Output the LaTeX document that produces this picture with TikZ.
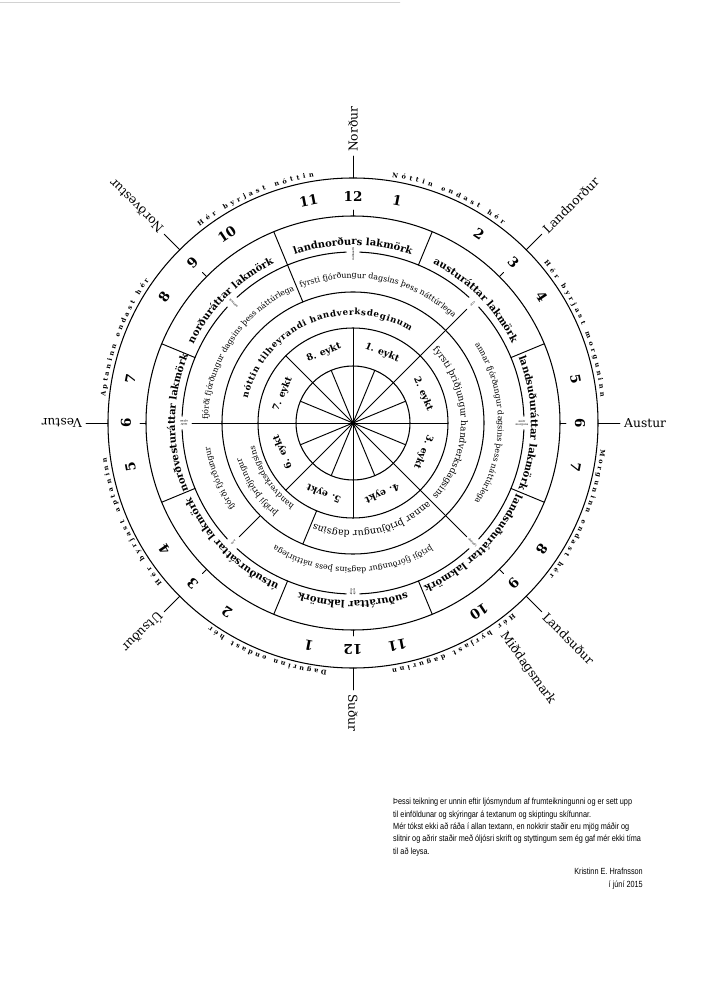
\documentclass[tikz,border=0pt]{standalone}
\usepackage{fontspec}
\setmainfont{DejaVu Serif}
\newfontfamily\notefont[FakeStretch=0.82]{Liberation Sans}
\usetikzlibrary{decorations.text}
% #1 align, #2 radius, #3 start (deg clockwise from north), #4 end, #5 font, #6 text
\newcommand\RingTxt[6]{%
  \path[decorate,decoration={text along path,text align={#1},text={|#5|#6}}]
    ({90-(#3)}:#2) arc[start angle={90-(#3)},end angle={90-(#4)},radius=#2];}
\tikzset{
  ring/.style={line width=1.05pt},
  rad/.style={line width=0.95pt},
  compass/.style={font=\fontsize{12.3}{12.3}\selectfont,inner sep=0pt,anchor=west},
  num/.style={font=\bfseries\fontsize{13.5}{13.5}\selectfont,inner sep=0pt},
  eyktlab/.style={font=\bfseries\fontsize{9.3}{9.3}\selectfont,inner sep=0pt},
  marklab/.style={font=\fontsize{2.8}{3}\selectfont,align=center,inner sep=0pt},
  notestyle/.style={inner sep=0pt,font=\notefont\fontsize{8.9}{12.3}\selectfont},
}
\begin{document}
\begin{tikzpicture}[x=1pt,y=1pt,line cap=round]
\useasboundingbox (-353,-577) rectangle (354,423);
\fill[white] (-353,-577) rectangle (354,423);
\draw[gray!35,line width=0.4pt] (-353,420.5) -- (47,420.5);

% circles
\foreach \r in {57,95,131,207,245} \draw[ring] (0,0) circle[radius=\r];
\foreach \k in {0,...,7}
  \draw[ring] ({90-45*\k-2.3}:171) arc[start angle={90-45*\k-2.3},end angle={90-45*\k-42.7},radius=171];
\fill (0,0) circle[radius=2.6];

% spokes
\foreach \k in {0,...,15} \draw[rad] (0,0) -- ({22.5*\k}:57);
\foreach \k in {0,...,7} \draw[rad] ({45*\k}:57) -- ({45*\k}:95);
\foreach \a in {45,135,270} \draw[rad] ({90-\a}:95) -- ({90-\a}:161);
\draw[rad] ({90-225}:131) -- ({90-225}:161);
\draw[rad] ({90-202.5}:95) -- ({90-202.5}:131);
\draw[rad] ({90-337.5}:131) -- ({90-337.5}:171);
\foreach \k in {0,...,7} \draw[rad] ({90-22.5-45*\k}:171) -- ({90-22.5-45*\k}:207);
\foreach \k in {0,...,7} \draw[rad] ({90-45*\k}:207) -- ({90-45*\k}:213);

% compass points
\foreach \a/\t/\n in {0/Norður/cN,45/Landnorður/cNE,90/Austur/cE,135/Landsuður/cSE,180/Suður/cS,225/Útsuður/cSW,270/Vestur/cW,315/Norðvestur/cNW}{
  \draw[rad] ({90-\a}:245) -- ({90-\a}:267);
  \node[compass,rotate={90-\a}] (\n) at ({90-\a}:271) {\t};
}
\node[compass,rotate=-54.5] (mdm) at (-54.5:258) {Miðdagsmark};

% hour numbers
\foreach \a/\t [count=\i] in {0/12,11.25/1,33.75/2,45/3,56.25/4,78.75/5,90/6,101.25/7,123.75/8,135/9,146.25/10,168.75/11,180/12,191.25/1,213.75/2,225/3,236.25/4,258.75/5,270/6,281.25/7,303.75/8,315/9,326.25/10,348.75/11}
  \node[num,rotate={-\a}] (h\i) at ({90-\a}:227) {\t};

% eykt labels
\foreach \k in {1,...,8}
  \node[eyktlab,rotate={-(45*\k-22.5)}] (e\k) at ({90-(45*\k-22.5)}:76) {\k. eykt};

% day-mark labels on the circle
\foreach \a/\t [count=\i] in {0/miðnætti,45/ótta,90/{miðr\\morguns},135/dagmál,180/{miðr\\dagr},225/nón,270/{miðr\\aptan},315/náttmál}
  \node[marklab,rotate={90-\a}] (s\i) at ({90-\a}:169) {\t};

% outer texts
\def\OF{\bfseries\fontsize{6.5}{7}\selectfont}
\RingTxt{fit to path}{249}{322}{351}{\OF}{Hér byrjast nóttin}
\RingTxt{fit to path}{249}{9}{37}{\OF}{Nóttin endast hér}
\RingTxt{fit to path}{249}{50}{84}{\OF}{Hér byrjast morguninn}
\RingTxt{fit to path}{249}{96}{128}{\OF}{Morguninn endast hér}
\RingTxt{fit to path}{249}{140}{171}{\OF}{Hér byrjast dagurinn}
\RingTxt{fit to path}{249}{186}{215}{\OF}{Dagurinn endast hér}
\RingTxt{fit to path}{249}{230}{262}{\OF}{Hér byrjast aptaninn}
\RingTxt{fit to path}{249}{276}{305}{\OF}{Aptaninn endast hér}

% lakmörk ring
\def\EF{\bfseries\fontsize{10}{10}\selectfont}
\RingTxt{center}{178}{-28}{28}{\EF}{landnorðurs lakmörk}
\RingTxt{center}{178}{17}{73}{\EF}{austuráttar lakmörk}
\RingTxt{center}{178}{62}{118}{\EF}{landsuðuráttar lakmörk}
\RingTxt{center}{178}{107}{163}{\EF}{landsuðuráttar lakmörk}
\RingTxt{center}{178}{152}{208}{\EF}{suðuráttar lakmörk}
\RingTxt{center}{178}{197}{253}{\EF}{útsuðursáttar lakmörk}
\RingTxt{center}{178}{242}{298}{\EF}{norðvesturáttar lakmörk}
\RingTxt{center}{178}{287}{343}{\EF}{norðuráttar lakmörk}

% fjórðungur ring
\def\DF{\fontsize{7.9}{9}\selectfont}
\RingTxt{center}{145}{-22.5}{45}{\DF}{fyrsti fjórðungur dagsins þess náttúrlega}
\RingTxt{center}{145}{45}{135}{\DF}{annar fjórðungur dagsins þess náttúrlega}
\RingTxt{center}{145}{135}{225}{\DF}{þriðji fjórðungur dagsins þess náttúrlega}
\RingTxt{center}{145}{225}{270}{\DF}{fjórði fjórðungur}
\RingTxt{center}{145}{270}{337.5}{\DF}{fjórði fjórðungur dagsins þess náttúrlega}

% þriðjungur ring
\RingTxt{fit to path}{108}{-77}{32}{\bfseries\fontsize{8.6}{9}\selectfont}{nóttin tilheyrandi handverksdeginum}
\RingTxt{center}{108}{45}{135}{\fontsize{9}{9}\selectfont}{fyrsti þriðjungur handverksdagsins}
\RingTxt{center}{108}{135}{202.5}{\fontsize{9.5}{9.5}\selectfont}{annar þriðjungur dagsins}
\RingTxt{center}{117}{202.5}{270}{\fontsize{8}{8}\selectfont}{þriðji þriðjungur}
\RingTxt{center}{101}{202.5}{270}{\fontsize{8}{8}\selectfont}{handverksdagsins}

% note (base = last line)
\node[notestyle,anchor=base west,align=left] (note) at (40,-431)
 {Þessi teikning er unnin eftir ljósmyndum af frumteikningunni og er sett upp\\
  til einföldunar og skýringar á textanum og skiptingu skífunnar.\\
  Mér tókst ekki að ráða í allan textann, en nokkrir staðir eru mjög máðir og\\
  slitnir og aðrir staðir með óljósri skrift og styttingum sem ég gaf mér ekki tíma\\
  til að leysa.};
\node[notestyle,anchor=base east,align=right] (sig) at (290,-464)
 {Kristinn E. Hrafnsson\\í júní 2015};
\end{tikzpicture}
\end{document}
